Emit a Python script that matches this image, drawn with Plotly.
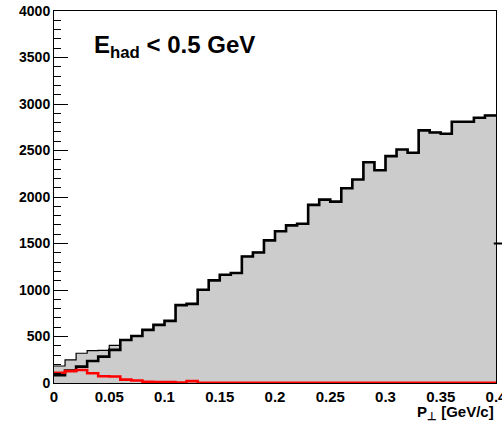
import plotly.graph_objects as go

# ---- data ----
bin_edges = [round(0.01 * i, 2) for i in range(41)]  # P_perp bins, 0 .. 0.4 GeV/c

total_counts = [183, 248, 320, 348, 350, 405, 463, 506, 571, 625,
                668, 837, 851, 1002, 1103, 1164, 1182, 1361, 1404, 1534,
                1631, 1695, 1713, 1915, 1972, 1950, 2094, 2188, 2374, 2288,
                2439, 2511, 2475, 2716, 2694, 2680, 2809, 2809, 2852, 2877]

black_counts = [83, 133, 176, 237, 284, 356, 463, 506, 571, 625,
                668, 837, 851, 1002, 1103, 1164, 1182, 1361, 1404, 1534,
                1631, 1695, 1713, 1915, 1972, 1950, 2094, 2188, 2374, 2288,
                2439, 2511, 2475, 2716, 2694, 2680, 2809, 2809, 2852, 2877]

red_counts = [110, 128, 140, 105, 72, 70, 36, 27, 13, 11,
              9, 4, 20, 3, 3, 3, 3, 3, 3, 3,
              3, 3, 3, 3, 3, 3, 3, 3, 3, 3,
              3, 3, 3, 3, 3, 3, 3, 3, 3, 3]

y_ticks = [0, 500, 1000, 1500, 2000, 2500, 3000, 3500, 4000]
x_ticks = [0, 0.05, 0.1, 0.15, 0.2, 0.25, 0.3, 0.35, 0.4]
x_tick_labels = ["0", "0.05", "0.1", "0.15", "0.2", "0.25", "0.3", "0.35", "0.4"]


def steps(counts):
    # hv step: each value starts at its lower bin edge; repeat last at upper edge
    return bin_edges, list(counts) + [counts[-1]]


FONT = "Liberation Sans"

fig = go.Figure()

x, y = steps(total_counts)
fig.add_trace(go.Scatter(x=x, y=y, mode="lines", line=dict(shape="hv", color="black", width=1.2),
                         fill="tozeroy", fillcolor="#cccccc", showlegend=False, hoverinfo="skip"))
x, y = steps(black_counts)
fig.add_trace(go.Scatter(x=x, y=y, mode="lines", line=dict(shape="hv", color="black", width=2.6),
                         showlegend=False, hoverinfo="skip"))
x, y = steps(red_counts)
fig.add_trace(go.Scatter(x=x, y=y, mode="lines", line=dict(shape="hv", color="#ff0000", width=2.6),
                         showlegend=False, hoverinfo="skip"))

fig.update_layout(
    width=502, height=426,
    margin=dict(l=54, r=6, t=11, b=43),
    paper_bgcolor="white", plot_bgcolor="white",
    xaxis=dict(range=[0, 0.4], tickvals=x_ticks, ticktext=x_tick_labels,
               showgrid=False, zeroline=False, showline=True, linecolor="black", linewidth=1,
               mirror=True, ticks="", layer="below traces", automargin=False,
               ticklabeloverflow="allow",
               tickfont=dict(family=FONT, size=15, color="black", weight="bold")),
    yaxis=dict(range=[0, 4000], tickvals=y_ticks, automargin=False,
               showgrid=False, zeroline=False, showline=True, linecolor="black", linewidth=1,
               mirror=True, ticks="inside", ticklen=14, tickwidth=1, tickcolor="black",
               minor=dict(dtick=100, ticks="inside", ticklen=7, tickwidth=1, tickcolor="black"),
               ticklabelstandoff=0,
               tickfont=dict(family=FONT, size=14, color="black", weight="bold")),
    annotations=[
        dict(text="E<sub>had</sub> &lt; 0.5 GeV", x=0.085, y=0.905, xref="paper", yref="paper",
             xanchor="left", yanchor="middle", showarrow=False,
             font=dict(family=FONT, size=24, color="black", weight="bold")),
        dict(text="P<sub>⊥</sub> [GeV/c]", x=1.0, y=-0.08, xref="paper", yref="paper",
             xanchor="right", yanchor="middle", showarrow=False,
             font=dict(family=FONT, size=15, color="black", weight="bold")),
    ],
    shapes=[
        dict(type="line", xref="paper", yref="y", x0=0.995, x1=1.014, y0=1500, y1=1500,
             line=dict(color="black", width=2)),
    ],
)

fig.write_html("out.html", config={"displayModeBar": False},
               post_script="document.body.style.margin='0';document.body.style.overflow='hidden';")
